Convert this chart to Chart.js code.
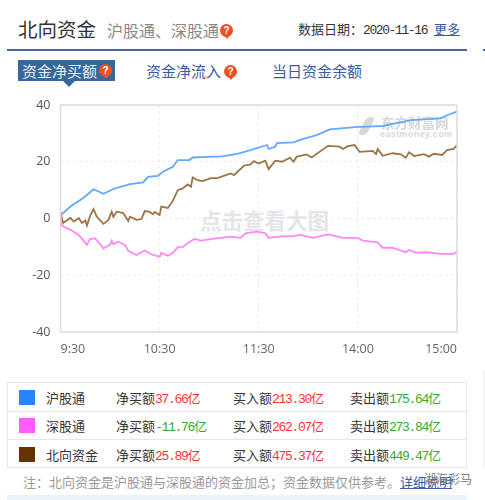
<!DOCTYPE html>
<html><head><meta charset="utf-8">
<script src="https://cdn.jsdelivr.net/npm/chart.js@4"></script>
<style>
html,body{margin:0;padding:0;background:#fff;overflow:hidden}
body{width:485px;height:500px;position:relative;font-family:"Noto Sans CJK SC",sans-serif;filter:blur(.35px)}
.a{position:absolute;white-space:nowrap;line-height:1}
.q{position:absolute;width:13px;height:13px;border-radius:50%;background:#f0501e;color:#fff;font:bold 10px/13px "Liberation Sans",sans-serif;text-align:center}
.q:after{content:"";position:absolute;left:4px;top:11px;border-left:3px solid transparent;border-right:3px solid transparent;border-top:4px solid #f0501e}
.n{font-family:"Liberation Mono",monospace;font-size:13px;letter-spacing:-1.3px}
.r{color:#ff3333}.g{color:#33aa33}
#c{position:absolute;left:0;top:0}
</style></head><body>
<div class="a" style="left:18px;top:19px;font-size:19.5px;color:#333">北向资金</div>
<div class="a" style="left:107px;top:22px;font-size:16px;color:#888">沪股通、深股通</div>
<div class="q" style="left:220px;top:24px">?</div>
<div class="a" style="left:298px;top:22px;font-size:13px;color:#333">数据日期：<span class="n" style="letter-spacing:-1.4px">2020-11-16</span></div>
<div class="a" style="left:434px;top:22px;font-size:13px;color:#3a5a9b;text-decoration:underline">更多</div>
<div class="a" style="left:7px;top:49px;width:460px;height:2px;background:#44699f"></div>
<div class="a" style="left:483px;top:49px;width:2px;height:2px;background:#44699f"></div>
<div class="a" style="left:18px;top:60px;width:97px;height:21px;background:#37689b"></div>
<div class="a" style="left:63px;top:81px;border-left:6px solid transparent;border-right:6px solid transparent;border-top:6px solid #37689b"></div>
<div class="a" style="left:22px;top:63px;font-size:15px;color:#e8eef6">资金净买额</div>
<div class="q" style="left:99px;top:64px">?</div>
<div class="a" style="left:146px;top:63px;font-size:15px;color:#3b5ba5">资金净流入</div>
<div class="q" style="left:224px;top:65px">?</div>
<div class="a" style="left:272px;top:63px;font-size:15px;color:#3b5ba5">当日资金余额</div>

<div class="a" style="left:200px;top:209px;font-size:21.5px;font-weight:bold;color:#e3e6e9">点击查看大图</div>
<div class="a" style="left:362px;top:117px;width:9px;height:18px;background:#d6d8da;border-radius:5px;transform:skewX(-28deg)"></div>
<div class="a" style="left:381px;top:116px;font-size:13.5px;font-weight:bold;color:#d6d8da">东方财富网</div>
<div class="a" style="left:380px;top:129px;font:bold 8.8px 'Liberation Sans',sans-serif;color:#d6d8da;letter-spacing:.5px">eastmoney.com</div>
<canvas id="c" width="485" height="370"></canvas>

<div class="a" style="left:7px;top:382px;width:458px;height:84px;border:1px solid #e6e6e6"></div>
<div class="a" style="left:8px;top:411px;width:458px;height:1px;background:#e6e6e6"></div>
<div class="a" style="left:8px;top:439px;width:458px;height:1px;background:#e6e6e6"></div>
<div id="rows"></div>
<div class="a" style="left:23px;top:475px;font-size:13px;color:#999">注：北向资金是沪股通与深股通的资金加总；资金数据仅供参考。</div>
<div class="a" style="left:400px;top:475px;font-size:13px;color:#3a5fa8;text-decoration:underline">详细说明</div>
<div class="a" style="left:424px;top:473px;font-size:12px;color:#777">湖海彩马</div>
<div class="a" style="left:7px;top:495px;width:460px;height:5px;background:#eaf2fa"></div>
<div class="a" style="left:483px;top:370px;width:2px;height:98px;background:#f4f4f4"></div>

<script>
const xTickLabels = ["9:30","10:30","11:30","14:00","15:00"];
const yTicks = [40,20,0,-20,-40];

const hgtTimes = [0,1,6,14,20,26,32,42,50,53,59,62,68,71,78,80,89,98,107,115,125,126,130,131,141,146,155,163,180,186,195,204,212,230,234,240];
const hgtValues = [1.2,1.6,4.2,7.3,10.3,8.7,10.4,12.1,12.7,14.7,15.0,16.5,18.2,20.6,20.6,21.5,21.7,21.9,22.8,24.1,25.9,24.5,25.3,26.6,26.8,27.9,29.4,31.4,32.3,32.4,32.6,33.7,34.7,35.3,36.4,37.66];

const sgtTimes = [0,1,6,11,16,18,21,26,30,31,32,35,39,41,46,51,55,60,61,65,68,71,74,77,81,85,91,103,109,112,119,124,126,135,140,145,153,162,171,180,183,192,195,201,209,211,215,222,230,238,240];
const sgtValues = [1.0,-2.6,-4.0,-5.8,-9.3,-7.2,-7.0,-10.5,-9.3,-7.8,-9.0,-8.2,-9.3,-11.4,-12.9,-11.3,-12.6,-13.5,-12.1,-13.1,-12.1,-10.1,-10.0,-8.7,-7.2,-7.8,-7.3,-6.4,-6.8,-5.2,-4.6,-5.2,-6.8,-6.2,-6.3,-5.8,-6.8,-5.6,-6.8,-6.8,-7.8,-8.4,-10.3,-10.3,-11.9,-11.1,-12.0,-11.9,-12.5,-12.5,-11.76];

const nbTimes = [0,1.5,6,8,11,13,15,16,18,20,22,26,29,31,32,34,38,41,42,46,49,51,54,56,57,60,61,65,68,71,74,77,79,80,83,86,91,95,103,105,111,115,117,120,124,126,130,134,139,141,143,149,152,162,169,171,174,178,181,189,191,192,195,201,206,209,211,214,220,223,226,231,234,238,240];
const nbValues = [2.3,-1.6,0.2,-1.1,0.2,-1.6,-0.7,-2.5,1.0,3.3,0.6,-1.9,-0.5,2.4,0.6,2.4,1.9,-0.9,0.6,-0.5,-0.2,2.6,2.3,1.5,2.3,1.2,4.2,3.7,6.2,10.0,10.6,12.0,11.2,14.5,13.5,13.2,14.2,14.2,15.9,15.3,18.6,19.1,20.2,19.4,20.4,17.4,20.4,20.0,21.4,20.0,21.8,22.6,21.5,25.6,25.3,24.5,25.5,25.9,23.5,23.8,22.7,24.5,22.1,23.0,22.6,21.4,23.3,22.0,22.7,21.8,22.8,22.4,24.1,24.5,25.89];

const seriesNames = ["沪股通","深股通","北向资金"];
const swatchColors = ["#2a84ff","#ff5cff","#663300"];
const lineColors = ["#62a8ff","#ff88f6","#9c7448"];
const netBuy = ["37.66","-11.76","25.89"];
const buyIn = ["213.30","262.07","475.37"];
const sellOut = ["175.64","273.84","449.47"];

const rowTop = [383,411,440];
document.getElementById("rows").innerHTML = seriesNames.map((n,i)=>{
  const t = rowTop[i]+8;
  return `<div class="a" style="left:19px;top:${rowTop[i]+7}px;width:16px;height:15px;background:${swatchColors[i]}"></div>
  <div class="a" style="left:46px;top:${t}px;font-size:13px;color:#333">${n}</div>
  <div class="a" style="left:116px;top:${t}px;font-size:13px;color:#333">净买额<span class="${netBuy[i][0]==='-'?'g':'r'}"><span class="n">${netBuy[i]}</span>亿</span></div>
  <div class="a" style="left:233px;top:${t}px;font-size:13px;color:#333">买入额<span class="r"><span class="n">${buyIn[i]}</span>亿</span></div>
  <div class="a" style="left:350px;top:${t}px;font-size:13px;color:#333">卖出额<span class="g"><span class="n">${sellOut[i]}</span>亿</span></div>`;
}).join("");

const pts = (xs,ys)=>xs.map((x,i)=>({x,y:ys[i]}));
const frame = {id:"frame",afterDraw(ch){
  const a=ch.chartArea,c=ch.ctx;c.save();c.strokeStyle="#dcdcdc";c.lineWidth=1.5;
  c.strokeRect(a.left,a.top,a.right-a.left,a.bottom-a.top);c.restore();
}};
const mk=(i,xs,ys)=>({label:seriesNames[i],data:pts(xs,ys),borderColor:lineColors[i],borderWidth:1.8,pointRadius:0,tension:0,order:i});
new Chart(document.getElementById("c"),{
  type:"line",
  data:{datasets:[mk(0,hgtTimes,hgtValues),mk(1,sgtTimes,sgtValues),mk(2,nbTimes,nbValues)]},
  options:{
    responsive:false,animation:false,
    layout:{padding:{top:105,right:28,left:0,bottom:0}},
    plugins:{legend:{display:false},tooltip:{enabled:false}},
    scales:{
      x:{type:"linear",min:0,max:240,
        afterFit(s){s.height=38},
        afterBuildTicks(s){s.ticks=xTickLabels.map((_,i)=>({value:i*60}))},
        grid:{color:"#ececec",drawTicks:false},border:{display:false,dash:[3,3]},
        ticks:{align:"inner",maxRotation:0,autoSkip:false,padding:10,color:"#666",font:{family:"'Open Sans'",size:12.5},
          callback:(v)=>xTickLabels[v/60]}},
      y:{type:"linear",min:-40,max:40,
        afterFit(s){s.width=60.5},
        afterBuildTicks(s){s.ticks=yTicks.map(value=>({value}))},
        grid:{color:"#ececec",drawTicks:false},border:{display:false,dash:[3,3]},
        ticks:{padding:10,color:"#555",font:{family:"'Open Sans'",size:12.5}}}
    }
  },
  plugins:[frame]
});
</script>
</body></html>
